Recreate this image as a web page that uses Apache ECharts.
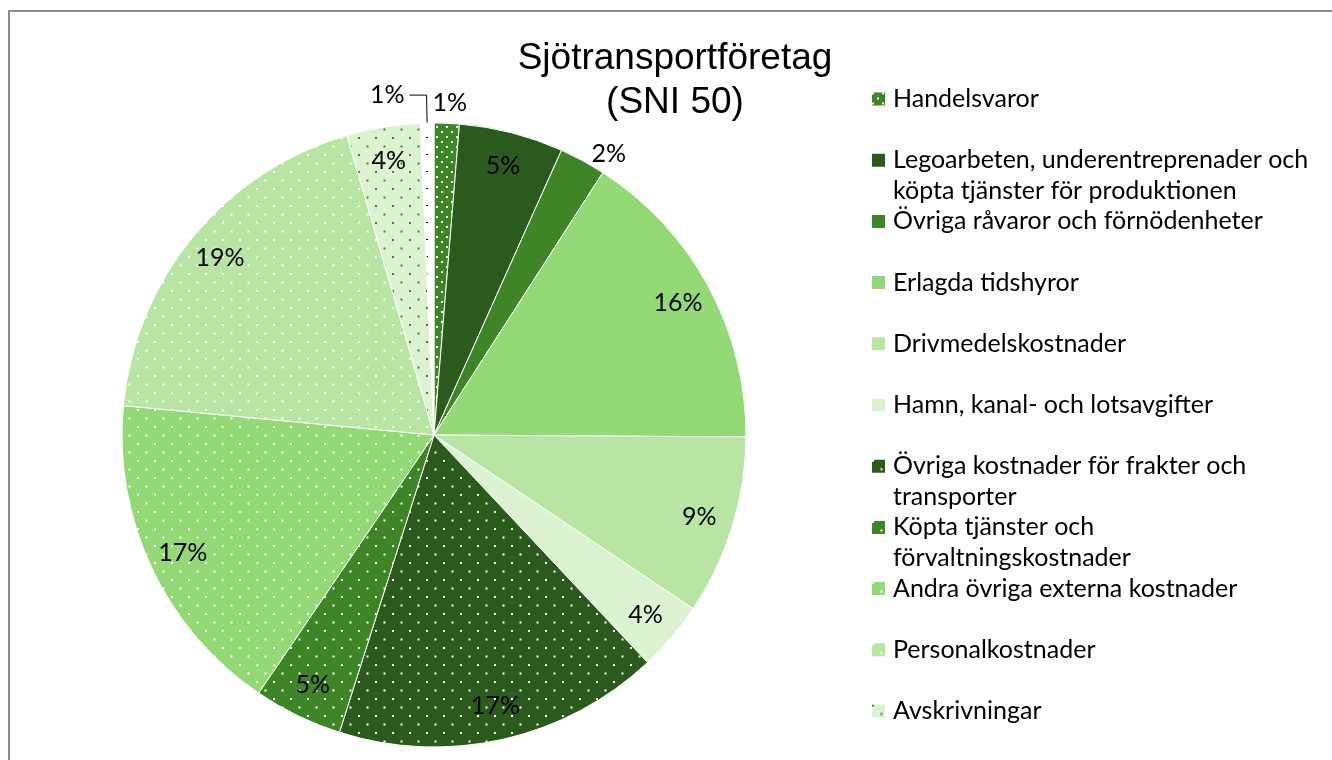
<!DOCTYPE html>
<html>
<head>
<meta charset="utf-8">
<script src="https://cdn.jsdelivr.net/npm/echarts@6/dist/echarts.min.js"></script>
<style>
  html, body { margin: 0; padding: 0; background: #fff; }
  #frame { position: absolute; left: 8px; top: 10px; width: 1400px; height: 800px; border: 2px solid #8c8c8c; }
  #chart { position: absolute; left: 0; top: 0; width: 1332px; height: 760px; }
</style>
</head>
<body>
<div id="frame"></div>
<div id="chart"></div>
<script>
// kostnadsposter, andel i procent
const categories = [
  'Handelsvaror',
  'Legoarbeten, underentreprenader och köpta tjänster för produktionen',
  'Övriga råvaror och förnödenheter',
  'Erlagda tidshyror',
  'Drivmedelskostnader',
  'Hamn, kanal- och lotsavgifter',
  'Övriga kostnader för frakter och transporter',
  'Köpta tjänster och förvaltningskostnader',
  'Andra övriga externa kostnader',
  'Personalkostnader',
  'Avskrivningar',
  'Övrigt'
];
const values = [1.3, 5.4, 2.4, 16.0, 9.3, 3.6, 16.9, 4.6, 17.0, 19.0, 3.8, 0.7];
const legendNames = categories.slice(0, 11);

// prickmönster
function dots(bg, fg, step, dot) {
  const c = document.createElement('canvas');
  c.width = step * 2; c.height = step * 2;
  const g = c.getContext('2d');
  g.fillStyle = bg; g.fillRect(0, 0, c.width, c.height);
  g.fillStyle = fg;
  g.fillRect(1, 1, dot[0], dot[1]);
  g.fillRect(step + 1, step + 1, dot[0], dot[1]);
  return { image: c, repeat: 'repeat' };
}

const dark = '#2a5b1c', mid = '#3d8527', light = '#93d975', pale = '#b8e5a3', paler = '#dcf2d1';
const colors = [
  dots(mid, '#fff', 5, [2, 2]),
  dark, mid, light, pale, paler,
  dots(dark, '#fff', 8.5, [2, 2]),
  dots(mid, '#fff', 8.5, [2, 2]),
  dots(light, '#fff', 8.5, [2, 2]),
  dots(pale, '#fff', 8.5, [2, 2]),
  dots(paler, mid, 8.5, [2, 2]),
  dots('#fff', '#000', 8.5, [2, 1])
];

const cx = 434, cy = 435, R = 312;
const font = 'Lato';
const twoLine = [1, 6, 7];

const legends = legendNames.map(function (name, i) {
  const yc = 99 + i * 61.2;
  const wrap = twoLine.indexOf(i) >= 0;
  return {
    left: 870,
    top: wrap ? yc - 46.5 : yc - 15.5,
    padding: 0,
    selectedMode: false,
    icon: 'rect',
    itemWidth: 15,
    itemHeight: 15,
    data: [name],
    // tom första rad så att markören står vid textens första rad
    formatter: function (n) { return wrap ? '\n' + n : n; },
    textStyle: {
      fontFamily: font, fontSize: 25, color: '#000',
      width: 428, overflow: 'break', lineHeight: 31,
      padding: [0, 0, 0, 2]
    }
  };
});

const outsideLabel = {
  0: { length: 20, length2: 0, show: false },
  2: { length: 8, length2: 0, show: false },
  11: { length: 28, length2: 17, show: true }
};

const chart = echarts.init(document.getElementById('chart'));
chart.setOption({
  backgroundColor: 'transparent',
  animation: false,
  title: {
    text: 'Sjötransportföretag\n(SNI 50)',
    left: 670,
    top: 32,
    textAlign: 'center',
    textStyle: { fontFamily: 'Liberation Sans', fontSize: 37, fontWeight: 'normal', color: '#000', lineHeight: 44 }
  },
  legend: legends,
  series: [
    {
      type: 'pie',
      center: [cx, cy],
      radius: [0, R],
      startAngle: 90,
      silent: true,
      label: { show: false },
      labelLine: { show: false },
      itemStyle: { borderColor: '#fff', borderWidth: 1 },
      emphasis: { disabled: true },
      data: values.map(function (v, i) {
        return { name: categories[i], value: v, itemStyle: { color: colors[i] } };
      })
    },
    {
      // etiketter på ~0.88 av radien
      type: 'pie',
      center: [cx, cy],
      radius: [R * 0.76, R],
      startAngle: 90,
      silent: true,
      itemStyle: { color: 'rgba(0,0,0,0)' },
      emphasis: { disabled: true },
      label: {
        position: 'inside',
        fontFamily: font, fontSize: 25, color: '#000',
        formatter: function (p) { return Math.round(p.percent) + '%'; }
      },
      labelLine: { show: false },
      labelLayout: function (p) {
        if (p.dataIndex === 0) return { dx: -20 };
      },
      data: values.map(function (v, i) {
        const o = outsideLabel[i];
        const item = { name: categories[i], value: v };
        if (o) {
          item.label = { position: 'outside', distanceToLabelLine: 5 };
          item.labelLine = { show: o.show, length: o.length, length2: o.length2, lineStyle: { color: '#000', width: 1 } };
        }
        return item;
      })
    }
  ]
});
</script>
</body>
</html>
